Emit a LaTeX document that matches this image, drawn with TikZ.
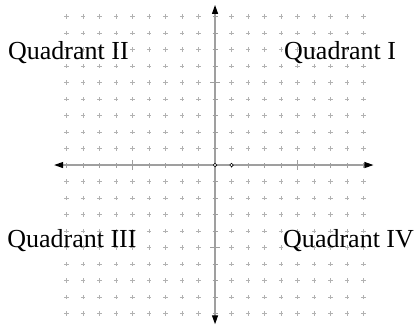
\documentclass[tikz,border=0pt]{standalone}
\usepackage{fontspec}
\setmainfont{Liberation Serif}
\usetikzlibrary{arrows.meta}
\begin{document}
\begin{tikzpicture}[x=16.5pt,y=16.5pt,
  gridplus/.style={gray!60,line width=0.4pt},
  axisline/.style={gray!75,line width=1.1pt,{Triangle[black,length=9pt,width=6pt]}-{Triangle[black,length=9pt,width=6pt]}},
  axistick/.style={gray!75,line width=0.6pt},
  quadlabel/.style={anchor=base west,inner sep=0pt,font=\fontsize{26}{30}\selectfont}]
\useasboundingbox (-13.03,-9.76) rectangle (12.42,10);
% grid of small crosses
\foreach \i in {-9,...,9}
  \foreach \j in {-9,...,9}
    \draw[gridplus] (\i-0.13,\j) -- (\i+0.13,\j) (\i,\j-0.13) -- (\i,\j+0.13);
% axes
\coordinate (xmin) at (-9.75,0); \coordinate (xmax) at (9.6,0);
\coordinate (ymin) at (0,-9.65); \coordinate (ymax) at (0,9.7);
\draw[axisline] (xmin) -- (xmax);
\draw[axisline] (ymin) -- (ymax);
\foreach \k in {-9,...,9} {
  \draw[axistick] (\k,-0.15) -- (\k,0.15);
  \draw[axistick] (-0.15,\k) -- (0.15,\k);
}
\foreach \k in {-5,5} {
  \draw[axistick] (\k,-0.3) -- (\k,0.3);
  \draw[axistick] (-0.3,\k) -- (0.3,\k);
}
% points
\draw[black,fill=white,line width=0.6pt] (0,0) circle (1.8pt) (1,0) circle (1.8pt);
% labels
\node[quadlabel] (q2) at (-12.55,6.42) {Quadrant II};
\node[quadlabel] (q1) at (4.18,6.42) {Quadrant I};
\node[quadlabel] (q3) at (-12.6,-4.97) {Quadrant III};
\node[quadlabel] (q4) at (4.12,-4.97) {Quadrant IV};
\end{tikzpicture}
\end{document}
